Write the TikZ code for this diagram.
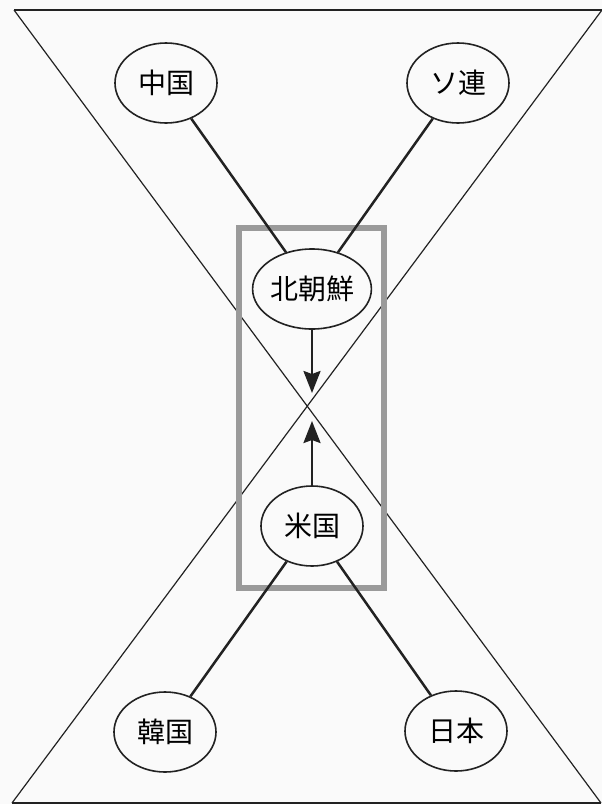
\documentclass[tikz,border=0pt]{standalone}
\usepackage{fontspec}
\newfontfamily\jpfont{Noto Sans CJK JP}
\usetikzlibrary{shapes.geometric,arrows.meta}
\definecolor{bgc}{HTML}{FAFAFA}
\definecolor{linec}{HTML}{222222}
\definecolor{framec}{HTML}{9A9A9A}
\tikzset{
  country/.style={ellipse, draw=linec, line width=1.6pt, fill=bgc, minimum width=102pt, minimum height=80pt, inner sep=0pt, font=\jpfont\fontsize{28}{30}\selectfont, text=black},
  tie/.style={draw=linec, line width=2.5pt},
  thin/.style={draw=linec, line width=1.2pt},
  push/.style={draw=linec, line width=2.5pt, -{Stealth[length=22pt,width=17pt,inset=3pt]}}
}
\begin{document}
\begin{tikzpicture}[x=1pt,y=-1pt]
\fill[bgc] (0,0) rectangle (602,804);
\useasboundingbox (0,0) rectangle (602,804);
% hourglass
\coordinate (tl) at (14,10);
\coordinate (tr) at (602,10);
\coordinate (bl) at (12,803);
\coordinate (br) at (601,803);
\draw[thin] (tl) -- (tr);
\draw[thin] (bl) -- (br);
\draw[thin] (tl) -- (br);
\draw[thin] (tr) -- (bl);
% gray frame
\draw[framec, line width=5.5pt] (239,228) rectangle (384,588);
\path (166,83) coordinate (pcn) (458,83) coordinate (pso) (312,289) coordinate (pnk)
      (312,526) coordinate (pus) (165,732) coordinate (pkr) (456,731) coordinate (pjp);
\node[country] (cn) at (pcn) {中国};
\node[country] (so) at (pso) {ソ連};
\node[country] (nk) at (pnk) {北朝鮮};
\node[country] (us) at (pus) {米国};
\node[country] (kr) at (pkr) {韓国};
\node[country] (jp) at (pjp) {日本};
\draw[tie] (cn) -- (nk);
\draw[tie] (so) -- (nk);
\draw[tie] (us) -- (kr);
\draw[tie] (us) -- (jp);
\coordinate (tipA) at (312,393);
\coordinate (tipB) at (312,421);
\draw[push] (nk.south) -- (tipA);
\draw[push] (us.north) -- (tipB);
\end{tikzpicture}
\end{document}
